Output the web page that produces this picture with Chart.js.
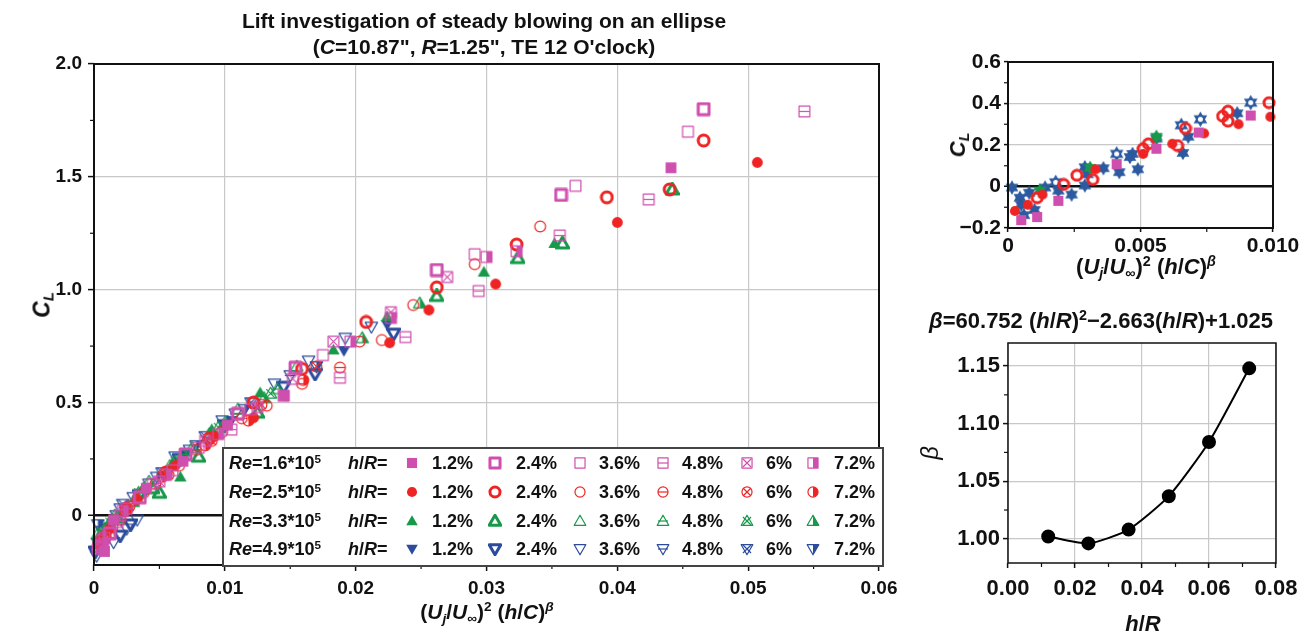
<!DOCTYPE html>
<html>
<head>
<meta charset="utf-8">
<script src="https://cdn.jsdelivr.net/npm/chart.js@4.4.1/dist/chart.umd.min.js"></script>
<style>
body { margin: 0; background: #fff; font-family: "Liberation Sans", Arial, sans-serif; }
#wrap { position: relative; width: 1306px; height: 637px; overflow: hidden; background: #fff; }
canvas { position: absolute; }
.t { position: absolute; font-weight: bold; color: #111; white-space: nowrap; transform: translate(-50%, -50%); line-height: 1; }
.rot { transform: translate(-50%, -50%) rotate(-90deg); }
sup { font-size: 65%; vertical-align: 0.55em; line-height: 0; }
sub { font-size: 65%; vertical-align: -0.3em; line-height: 0; }
#legend { position: absolute; left: 222px; top: 447px; width: 658px; height: 116px; border: 2px solid #444; background: #fff; }
#legend span { position: absolute; font-weight: bold; font-size: 18px; color: #111; white-space: nowrap; transform: translateY(-50%); line-height: 1; }
</style>
</head>
<body>
<div id="wrap">
  <canvas id="main" width="920" height="637" style="left:0;top:0"></canvas>
  <canvas id="inset" width="376" height="250" style="left:930px;top:40px"></canvas>
  <canvas id="beta" width="406" height="337" style="left:900px;top:300px"></canvas>

  <div class="t" style="left:484px;top:20px;font-size:21px">Lift investigation of steady blowing on an ellipse</div>
  <div class="t" style="left:484px;top:46px;font-size:21px">(<i>C</i>=10.87", <i>R</i>=1.25", TE 12 O'clock)</div>
  <div class="t" style="left:487px;top:611px;font-size:21px">(<i>U<sub>j</sub></i>/<i>U</i><sub>∞</sub>)<sup>2</sup> (<i>h</i>/<i>C</i>)<sup><i>β</i></sup></div>
  <div class="t rot" style="left:42px;top:305px;font-size:23px"><i>C<sub>L</sub></i></div>

  <div class="t rot" style="left:958px;top:145px;font-size:22px"><i>C<sub>L</sub></i></div>
  <div class="t" style="left:1146px;top:267px;font-size:22px">(<i>U<sub>j</sub></i>/<i>U</i><sub>∞</sub>)<sup>2</sup> (<i>h</i>/<i>C</i>)<sup><i>β</i></sup></div>

  <div class="t" style="left:1101px;top:321px;font-size:22px"><i>β</i>=60.752 (<i>h</i>/<i>R</i>)<sup>2</sup>−2.663(<i>h</i>/<i>R</i>)+1.025</div>
  <div class="t rot" style="left:930px;top:453px;font-size:24px;font-weight:normal"><i>β</i></div>
  <div class="t" style="left:1143px;top:624px;font-size:22px"><i>h</i>/<i>R</i></div>

  <div id="legend"></div>
</div>

<script>
// ---- categories ----
var reLabels = ['1.6', '2.5', '3.3', '4.9'];
var hrLabels = ['1.2%', '2.4%', '3.6%', '4.8%', '6%', '7.2%'];

// ---- main chart: [x, CL] per Re / h/R ----
// Re = 1.6*10^5
var m12 = [[0.0441,1.54],[0.0145,0.53],[0.0102,0.40],[0.0068,0.24],[0.0040,0.12],[0.0015,-0.02],[0.0008,-0.16]];
var m24 = [[0.0466,1.80],[0.0357,1.42],[0.0262,1.087],[0.0154,0.654],[0.0110,0.45],[0.0070,0.27],[0.0035,0.08],[0.0012,-0.08],[0.0004,-0.14]];
var m36 = [[0.0454,1.70],[0.0368,1.46],[0.0291,1.157],[0.0175,0.71],[0.0120,0.47],[0.0080,0.30],[0.0045,0.14],[0.0020,0.00],[0.0006,-0.11]];
var m48 = [[0.0543,1.79],[0.0424,1.40],[0.0356,1.24],[0.0294,0.994],[0.0238,0.79],[0.0188,0.61],[0.0105,0.38],[0.0060,0.20],[0.0025,0.03],[0.0008,-0.10]];
var m60 = [[0.0270,1.056],[0.0227,0.90],[0.0183,0.77],[0.0152,0.605],[0.0125,0.48],[0.0085,0.33],[0.0050,0.15],[0.0018,-0.03],[0.0003,-0.15]];
var m72 = [[0.0323,1.17],[0.0300,1.145],[0.0227,0.875],[0.0196,0.77],[0.0145,0.53],[0.0095,0.36],[0.0055,0.18],[0.0022,0.02],[0.0007,-0.13]];
// Re = 2.5*10^5
var r12 = [[0.0507,1.564],[0.0400,1.298],[0.0307,1.025],[0.0256,0.91],[0.0226,0.765],[0.0122,0.433],[0.0092,0.35],[0.0062,0.22],[0.0033,0.07],[0.0012,-0.06],[0.0003,-0.13]];
var r24 = [[0.0466,1.661],[0.0440,1.444],[0.0392,1.409],[0.0323,1.20],[0.0262,1.01],[0.0208,0.857],[0.0159,0.649],[0.0122,0.50],[0.0088,0.34],[0.0055,0.19],[0.0025,0.03],[0.0008,-0.10]];
var r36 = [[0.0341,1.28],[0.0291,1.113],[0.0244,0.932],[0.0220,0.777],[0.0203,0.77],[0.0132,0.486],[0.0098,0.37],[0.0065,0.22],[0.0038,0.10],[0.0014,-0.05]];
var r48 = [[0.0188,0.655],[0.0159,0.583],[0.0113,0.43],[0.0078,0.29],[0.0047,0.14],[0.0020,-0.02],[0.0005,-0.12]];
var r60 = [[0.0170,0.66],[0.0128,0.49],[0.0090,0.33],[0.0057,0.18],[0.0027,0.04],[0.0009,-0.09]];
var r72 = [[0.0160,0.60],[0.0118,0.42],[0.0085,0.31],[0.0052,0.17],[0.0024,0.02],[0.0006,-0.11]];
// Re = 3.3*10^5
var g12 = [[0.0352,1.205],[0.0298,1.078],[0.0224,0.88],[0.0183,0.733],[0.0127,0.543],[0.0090,0.38],[0.0066,0.17],[0.0060,0.23],[0.0032,0.08],[0.0010,-0.05]];
var g24 = [[0.0442,1.444],[0.0358,1.205],[0.0324,1.14],[0.0262,0.972],[0.0125,0.455],[0.0080,0.26],[0.0050,0.10],[0.0045,0.12],[0.0018,-0.01],[0.0004,-0.10]];
var g36 = [[0.0155,0.66],[0.0110,0.47],[0.0075,0.30],[0.0042,0.15],[0.0016,0.00],[0.0003,-0.08]];
var g48 = [[0.0140,0.56],[0.0100,0.41],[0.0068,0.27],[0.0038,0.12],[0.0014,-0.02]];
var g60 = [[0.0135,0.54],[0.0095,0.39],[0.0062,0.24],[0.0034,0.10],[0.0012,-0.03]];
var g72 = [[0.0249,0.94],[0.0205,0.786],[0.0130,0.52],[0.0088,0.36],[0.0058,0.22],[0.0030,0.06],[0.0008,-0.06]];
// Re = 4.9*10^5
var b12 = [[0.0224,0.845],[0.0191,0.73],[0.0105,0.42],[0.0070,0.27],[0.0040,0.11],[0.0015,-0.03],[0.0002,-0.12]];
var b24 = [[0.0229,0.805],[0.0169,0.627],[0.0145,0.57],[0.0100,0.40],[0.0065,0.25],[0.0035,0.09],[0.0028,-0.04],[0.0020,-0.09],[0.0010,-0.06],[0.0001,-0.16]];
var b36 = [[0.0212,0.835],[0.0192,0.786],[0.0164,0.685],[0.0138,0.583],[0.0098,0.42],[0.0062,0.26],[0.0033,-0.02],[0.0030,0.08],[0.0025,-0.06],[0.0015,-0.12],[0.0008,-0.10],[0.0002,-0.18]];
var b48 = [[0.0150,0.62],[0.0108,0.45],[0.0073,0.29],[0.0042,0.14],[0.0017,0.00],[0.0004,-0.14]];
var b60 = [[0.0120,0.50],[0.0085,0.35],[0.0052,0.19],[0.0022,0.05],[0.0006,-0.07]];
var b72 = [[0.0170,0.66],[0.0115,0.47],[0.0078,0.31],[0.0048,0.17],[0.0020,0.03],[0.0003,-0.04]];

var mainSeries = [
  [m12, m24, m36, m48, m60, m72],
  [r12, r24, r36, r48, r60, r72],
  [g12, g24, g36, g48, g60, g72],
  [b12, b24, b36, b48, b60, b72]
];

var mainXTicks = [0, 0.01, 0.02, 0.03, 0.04, 0.05, 0.06];
var mainXLabels = ['0', '0.01', '0.02', '0.03', '0.04', '0.05', '0.06'];
var mainYTicks = [0, 0.5, 1.0, 1.5, 2.0];
var mainYLabels = ['0', '0.5', '1.0', '1.5', '2.0'];

// ---- inset (zoom near origin) ----
var insetBlue = [[0.00865,0.353],[0.0068,0.24],[0.0066,0.162],[0.0056,0.231],[0.0049,0.083],[0.0047,0.157],[0.0046,0.142],[0.0042,0.069],[0.0036,0.088],[0.0029,0.093],[0.0030,0.059],[0.0029,0.005],[0.0024,-0.039],[0.0019,-0.02],[0.0014,-0.005],[0.0008,-0.03],[0.00045,-0.054],[0.00015,-0.005],[0.0006,-0.138],[0.0010,-0.113],[0.0005,-0.088]];
var insetBlueHollow = [[0.00916,0.404],[0.00726,0.324],[0.00654,0.295],[0.0041,0.157],[0.0018,0.02]];
var insetRedSolid = [[0.0099,0.336],[0.0087,0.30],[0.0074,0.256],[0.0062,0.206],[0.0051,0.157],[0.0033,0.083],[0.0013,-0.039],[0.00075,-0.088],[0.00026,-0.118]];
var insetRedRing = [[0.00985,0.404],[0.0083,0.363],[0.0081,0.339],[0.0083,0.315],[0.0067,0.28],[0.0064,0.197],[0.0053,0.206],[0.0051,0.182],[0.0032,0.034],[0.0026,0.054],[0.0021,0.01],[0.0011,-0.054]];
var insetMag = [[0.00916,0.342],[0.0072,0.26],[0.0056,0.182],[0.0041,0.108],[0.0019,-0.069],[0.0011,-0.147],[0.0005,-0.162]];
var insetGreen = [[0.0056,0.24],[0.0031,0.09],[0.0012,-0.02]];

var insetXTicks = [0, 0.005, 0.01];
var insetXLabels = ['0', '0.005', '0.010'];
var insetYTicks = [-0.2, 0, 0.2, 0.4, 0.6];
var insetYLabels = ['\u22120.2', '0', '0.2', '0.4', '0.6'];

// ---- beta vs h/R ----
var hr = [0.012, 0.024, 0.036, 0.048, 0.060, 0.072];
var betaVals = [1.002, 0.996, 1.008, 1.037, 1.084, 1.148];
var betaXTicks = [0, 0.02, 0.04, 0.06, 0.08];
var betaXLabels = ['0.00', '0.02', '0.04', '0.06', '0.08'];
var betaYTicks = [1.00, 1.05, 1.10, 1.15];
var betaYLabels = ['1.00', '1.05', '1.10', '1.15'];

var reColors = ['#cf4fae', '#ee2424', '#17994a', '#2b4c9c'];
var reShapes = ['square', 'circle', 'up', 'down'];
var hrKinds = ['solid', 'thick', 'open', 'line', 'cross', 'half'];

Chart.defaults.font.family = '"Liberation Sans", Arial, sans-serif';
Chart.defaults.font.weight = 'bold';
Chart.defaults.color = '#111';

function makeMarker(shape, color, kind, sz) {
  var s = sz || 15;
  var c = document.createElement('canvas');
  c.width = s; c.height = s;
  var g = c.getContext('2d'), h = s / 2, r = s * 0.36;
  function outline() {
    g.beginPath();
    if (shape === 'square') g.rect(h - r, h - r, 2 * r, 2 * r);
    else if (shape === 'circle') g.arc(h, h, r, 0, 2 * Math.PI);
    else if (shape === 'up') { g.moveTo(h, h - r * 1.15); g.lineTo(h + r * 1.15, h + r * 0.85); g.lineTo(h - r * 1.15, h + r * 0.85); g.closePath(); }
    else { g.moveTo(h, h + r * 1.15); g.lineTo(h + r * 1.15, h - r * 0.85); g.lineTo(h - r * 1.15, h - r * 0.85); g.closePath(); }
  }
  g.strokeStyle = color; g.fillStyle = color; g.lineJoin = 'round';
  if (kind === 'solid') { outline(); g.fill(); }
  else if (kind === 'thick') { g.lineWidth = 3; outline(); g.stroke(); }
  else {
    g.lineWidth = 1.2; outline(); g.stroke();
    if (kind === 'line') { g.beginPath(); g.moveTo(h - r, h); g.lineTo(h + r, h); g.stroke(); }
    if (kind === 'cross') {
      g.beginPath();
      g.moveTo(h - r * 0.8, h - r * 0.8); g.lineTo(h + r * 0.8, h + r * 0.8);
      g.moveTo(h + r * 0.8, h - r * 0.8); g.lineTo(h - r * 0.8, h + r * 0.8);
      g.stroke();
    }
    if (kind === 'half') { g.save(); outline(); g.clip(); g.fillRect(h, 0, h, s); g.restore(); }
  }
  return c;
}

function makeStar(color, hollow, sz) {
  var s = sz || 16;
  var c = document.createElement('canvas');
  c.width = s; c.height = s;
  var g = c.getContext('2d'), h = s / 2, r = s * 0.46;
  g.fillStyle = color;
  g.beginPath();
  g.moveTo(h, h - r); g.lineTo(h + r * 0.87, h + r * 0.5); g.lineTo(h - r * 0.87, h + r * 0.5); g.closePath();
  g.fill();
  g.beginPath();
  g.moveTo(h, h + r); g.lineTo(h + r * 0.87, h - r * 0.5); g.lineTo(h - r * 0.87, h - r * 0.5); g.closePath();
  g.fill();
  if (hollow) { g.fillStyle = '#fff'; g.beginPath(); g.arc(h, h, r * 0.32, 0, 2 * Math.PI); g.fill(); }
  return c;
}

function pts(arr) {
  return arr.map(function (p) { return { x: p[0], y: p[1] }; });
}

function fixedTicks(values) {
  return function (scale) {
    scale.ticks = values.map(function (v) { return { value: v }; });
  };
}

function labelFor(values, labels) {
  return function (v) {
    var i = values.indexOf(v);
    return i >= 0 ? labels[i] : '';
  };
}

// frame box and minor ticks
function makeFrame(xMinor, yMinor, lw) {
  return {
    id: 'frame',
    afterDraw: function (chart) {
      var a = chart.chartArea, ctx = chart.ctx;
      var xs = chart.scales.x, ys = chart.scales.y;
      ctx.save();
      ctx.strokeStyle = '#111';
      ctx.lineWidth = 1.2;
      xMinor.forEach(function (v) {
        var p = xs.getPixelForValue(v);
        ctx.beginPath(); ctx.moveTo(p, a.bottom); ctx.lineTo(p, a.bottom + 4); ctx.stroke();
      });
      yMinor.forEach(function (v) {
        var p = ys.getPixelForValue(v);
        ctx.beginPath(); ctx.moveTo(a.left - 4, p); ctx.lineTo(a.left, p); ctx.stroke();
      });
      ctx.lineWidth = lw;
      ctx.strokeRect(a.left, a.top, a.right - a.left, a.bottom - a.top);
      ctx.restore();
    }
  };
}

function axis(min, max, ticks, labels, size, tickLen, pad, fitKey, fitVal, zeroLine) {
  return {
    type: 'linear', min: min, max: max,
    afterBuildTicks: fixedTicks(ticks),
    afterFit: function (s) { s[fitKey] = fitVal; },
    ticks: { font: { size: size, weight: 'bold' }, color: '#111', padding: pad, maxRotation: 0, autoSkip: false, callback: labelFor(ticks, labels) },
    grid: {
      color: function (c) { return (zeroLine && c.tick && c.tick.value === 0) ? '#111' : '#c8c8c8'; },
      lineWidth: function (c) { return (zeroLine && c.tick && c.tick.value === 0) ? 2.5 : 1.2; },
      tickColor: '#111', tickLength: tickLen, tickWidth: 1.5
    },
    border: { display: false }
  };
}

var baseOpts = {
  responsive: false, animation: false, devicePixelRatio: 1, events: [],
  plugins: { legend: { display: false }, tooltip: { enabled: false } }
};

// ---------- main chart ----------
var mainDatasets = [];
mainSeries.forEach(function (row, i) {
  row.forEach(function (arr, j) {
    mainDatasets.push({
      label: 'Re=' + reLabels[i] + ' h/R=' + hrLabels[j],
      data: pts(arr),
      pointStyle: makeMarker(reShapes[i], reColors[i], hrKinds[j], 15),
      clip: false
    });
  });
});

new Chart(document.getElementById('main'), {
  type: 'scatter',
  data: { datasets: mainDatasets },
  options: Object.assign({}, baseOpts, {
    layout: { padding: { left: 0, right: 41, top: 64, bottom: 32 } },
    scales: {
      x: axis(0, 0.06, mainXTicks, mainXLabels, 19, 6, 6, 'height', 40, false),
      y: axis(-0.22, 2.0, mainYTicks, mainYLabels, 19, 6, 6, 'width', 94, true)
    }
  }),
  plugins: [makeFrame([0.005, 0.015, 0.025, 0.035, 0.045, 0.055], [0.25, 0.75, 1.25, 1.75], 2)]
});

// ---------- inset ----------
new Chart(document.getElementById('inset'), {
  type: 'scatter',
  data: {
    datasets: [
      { label: 'Re=1.6', data: pts(insetMag), pointStyle: makeMarker('square', reColors[0], 'solid', 14), clip: false },
      { label: 'Re=2.5 solid', data: pts(insetRedSolid), pointStyle: makeMarker('circle', reColors[1], 'solid', 14), clip: false },
      { label: 'Re=2.5 ring', data: pts(insetRedRing), pointStyle: makeMarker('circle', reColors[1], 'thick', 14), clip: false },
      { label: 'Re=3.3', data: pts(insetGreen), pointStyle: makeStar(reColors[2], false, 16), clip: false },
      { label: 'Re=4.9', data: pts(insetBlue), pointStyle: makeStar('#2b5aa0', false, 16), clip: false },
      { label: 'Re=4.9 b', data: pts(insetBlueHollow), pointStyle: makeStar('#2b5aa0', true, 17), clip: false }
    ]
  },
  options: Object.assign({}, baseOpts, {
    layout: { padding: { left: 0, right: 33, top: 22, bottom: 32 } },
    scales: {
      x: axis(0, 0.01, insetXTicks, insetXLabels, 21, 4, 2, 'height', 30, false),
      y: axis(-0.2, 0.6, insetYTicks, insetYLabels, 21, 4, 3, 'width', 78, true)
    }
  }),
  plugins: [makeFrame([0.0025, 0.0075], [-0.1, 0.1, 0.3, 0.5], 2)]
});

// ---------- beta ----------
new Chart(document.getElementById('beta'), {
  type: 'scatter',
  data: {
    datasets: [{
      label: 'beta',
      data: hr.map(function (v, i) { return { x: v, y: betaVals[i] }; }),
      showLine: true, tension: 0.2,
      borderColor: '#000', borderWidth: 2,
      pointRadius: 6, pointBackgroundColor: '#000', pointBorderColor: '#000',
      clip: false
    }]
  },
  options: Object.assign({}, baseOpts, {
    layout: { padding: { left: 0, right: 30, top: 43, bottom: 34 } },
    scales: {
      x: axis(0, 0.08, betaXTicks, betaXLabels, 22, 5, 8, 'height', 40, false),
      y: axis(0.979, 1.17, betaYTicks, betaYLabels, 22, 5, 3, 'width', 108, false)
    }
  }),
  plugins: [makeFrame([0.01, 0.03, 0.05, 0.07], [1.025, 1.075, 1.125], 1.5)]
});

// ---------- legend table ----------
var leg = document.getElementById('legend');
var rowY = [14, 43, 72, 100];
var markX = [188, 271, 356, 439, 523, 589];
var textX = [208, 292, 375, 458, 542, 610];
reLabels.forEach(function (re, i) {
  var a = document.createElement('span');
  a.style.left = '5px'; a.style.top = rowY[i] + 'px';
  a.innerHTML = '<i>Re</i>=' + re + '*10<sup>5</sup>';
  leg.appendChild(a);
  var b = document.createElement('span');
  b.style.left = '124px'; b.style.top = rowY[i] + 'px';
  b.innerHTML = '<i>h</i>/<i>R</i>=';
  leg.appendChild(b);
  hrLabels.forEach(function (lab, j) {
    var m = makeMarker(reShapes[i], reColors[i], hrKinds[j], 14);
    m.style.left = (markX[j] - 7) + 'px';
    m.style.top = (rowY[i] - 7) + 'px';
    leg.appendChild(m);
    var t = document.createElement('span');
    t.style.left = textX[j] + 'px'; t.style.top = rowY[i] + 'px';
    t.textContent = lab;
    leg.appendChild(t);
  });
});
</script>
</body>
</html>
